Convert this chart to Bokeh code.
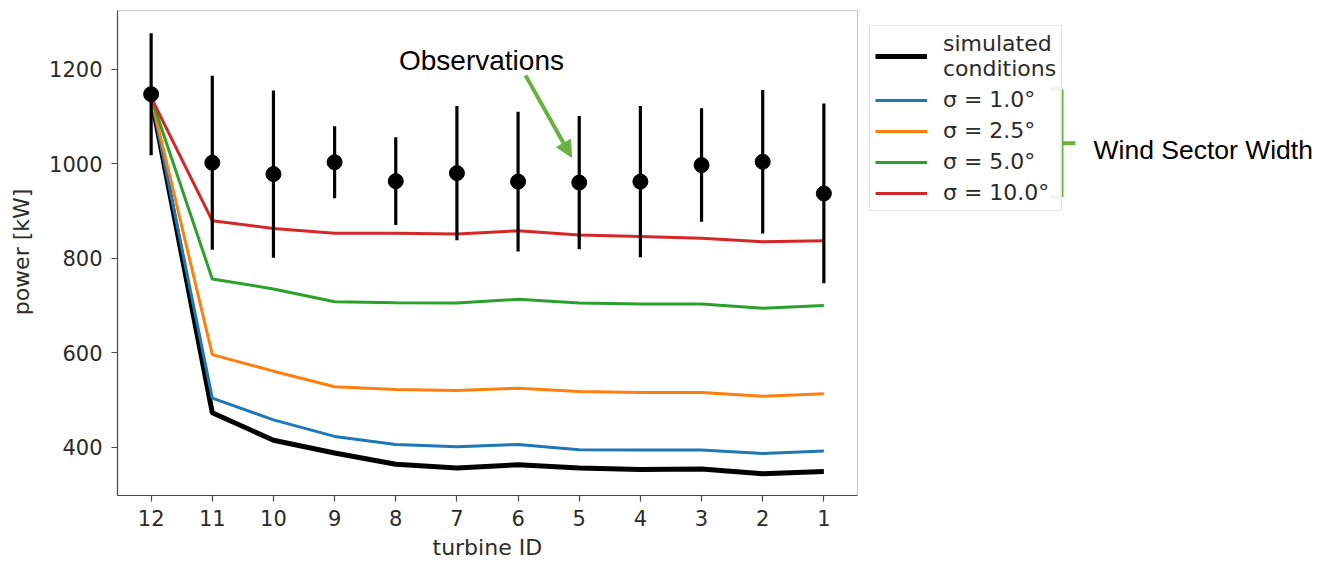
from bokeh.plotting import figure
from bokeh.models import (Range1d, FixedTicker, Legend, LegendItem, Label, Title,
                          Arrow, NormalHead, ColumnDataSource, BoxAnnotation)
from bokeh.embed import file_html
from bokeh.resources import INLINE

# ---------------- data ----------------
turbine_ids = [12, 11, 10, 9, 8, 7, 6, 5, 4, 3, 2, 1]
x_tick_labels = ["12", "11", "10", "9", "8", "7", "6", "5", "4", "3", "2", "1"]
y_ticks = [400, 600, 800, 1000, 1200]

simulated = [1140, 473, 415, 388, 364, 356, 363, 356, 353, 354, 344, 349]
sigma_1_0 = [1140, 504, 458, 423, 406, 401, 406, 395, 394, 394, 387, 392]
sigma_2_5 = [1140, 596, 561, 528, 522, 520, 525, 518, 516, 516, 508, 513]
sigma_5_0 = [1140, 756, 735, 708, 706, 705, 713, 705, 703, 703, 694, 700]
sigma_10_0 = [1140, 879, 863, 853, 853, 851, 858, 849, 846, 842, 835, 837]

obs_mean = [1147, 1002, 978, 1003, 963, 980, 962, 960, 962, 997, 1004, 937]
obs_std = [129, 184, 177, 76, 93, 142, 148, 141, 160, 120, 152, 190]

series_labels = ["σ = 1.0°", "σ = 2.5°", "σ = 5.0°", "σ = 10.0°"]
series_colors = ["#1f77b4", "#ff7f0e", "#2ca02c", "#d62728"]
series_values = [sigma_1_0, sigma_2_5, sigma_5_0, sigma_10_0]

# ---------------- geometry (page pixels) ----------------
W, H = 1331, 564
FL, FR, FT, FB = 117, 857, 10, 496          # axes box
X0, XA = 12.55, 0.45                         # x limits of the axes box
Y0, YA = 298, 1324                           # y limits of the axes box
PX = (X0 - XA) / (FR - FL)                   # x units per pixel
PY = (YA - Y0) / (FB - FT)                   # y units per pixel
TOP_PAD = 2
X1 = X0 - (W - FL) * PX                      # frame runs to the right edge
Y1 = YA + TOP_PAD * PY


def dx(px):
    return X0 - (px - FL) * PX


def dy(py):
    return YA - (py - FT) * PY


p = figure(width=W, height=H, output_backend="svg", toolbar_location=None,
           x_range=Range1d(X0, X1), y_range=Range1d(Y0, Y1),
           min_border_left=FL, min_border_right=0,
           min_border_top=FT - TOP_PAD, min_border_bottom=H - FB)
p.grid.visible = False
p.outline_line_color = None
p.background_fill_color = "white"
p.border_fill_color = "white"

AX = "#484848"
TXT = "#2b2b2b"
FONT = "DejaVu Sans"
for ax in (p.xaxis[0], p.yaxis[0]):
    ax.axis_line_color = AX
    ax.axis_line_width = 1.2
    ax.major_tick_line_color = AX
    ax.major_tick_line_width = 1.2
    ax.major_tick_out = 6
    ax.major_tick_in = 0
    ax.minor_tick_line_color = None
    ax.major_label_text_font = FONT
    ax.major_label_text_font_size = "21px"
    ax.major_label_text_color = TXT
    ax.axis_label_text_font = FONT
    ax.axis_label_text_font_size = "22px"
    ax.axis_label_text_font_style = "normal"
    ax.axis_label_text_color = TXT

p.xaxis.ticker = FixedTicker(ticks=turbine_ids)
p.xaxis.bounds = (X0, XA)
p.xaxis.major_label_overrides = {t: l for t, l in zip(turbine_ids, x_tick_labels)}
p.xaxis.major_label_standoff = 8

p.yaxis.ticker = FixedTicker(ticks=y_ticks)
p.yaxis.bounds = (Y0, YA)
p.yaxis.axis_label = "power [kW]"
p.yaxis.major_label_standoff = 9
p.yaxis.axis_label_standoff = 12

# x axis title, centred under the axes box (the frame runs wider)
p.add_layout(Title(text="turbine ID", align="left",
                   offset=432 - FL, standoff=9,
                   text_font=FONT, text_font_size="22px",
                   text_font_style="normal", text_color=TXT), "below")

# axes box (top and right sides)
p.add_layout(BoxAnnotation(left=X0, right=XA, bottom=Y0, top=YA,
                           fill_alpha=0, line_color=AX, line_width=1.2))

# ---------------- glyphs ----------------
r_sim = p.line(turbine_ids, simulated, line_color="black", line_width=5)
renderers = []
for vals, col in zip(series_values, series_colors):
    renderers.append(p.line(turbine_ids, vals, line_color=col, line_width=3))

lo = [m - s for m, s in zip(obs_mean, obs_std)]
hi = [m + s for m, s in zip(obs_mean, obs_std)]
src = ColumnDataSource(dict(x=turbine_ids, m=obs_mean, lo=lo, hi=hi))
p.segment(x0="x", y0="lo", x1="x", y1="hi", source=src,
          line_color="black", line_width=3.2)
p.scatter(x="x", y="m", source=src, size=15, marker="circle",
          fill_color="black", line_color="black")

# ---------------- legend ----------------
items = [LegendItem(label="simulated\nconditions", renderers=[r_sim])]
for lab, r in zip(series_labels, renderers):
    items.append(LegendItem(label=lab, renderers=[r]))
legend = Legend(items=items, location=(869 - FL, FB - 212),
                label_text_font=FONT, label_text_font_size="22px",
                label_text_color=TXT, glyph_width=52, glyph_height=20,
                label_standoff=16, spacing=6, padding=5, margin=0,
                border_line_color="#cccccc", border_line_width=1,
                background_fill_alpha=0.9)
p.add_layout(legend, "center")

# ---------------- annotations ----------------
GREEN = "#6ab23f"
ANN_FONT = "Liberation Sans"

p.add_layout(Label(x=dx(481), y=dy(60), text="Observations",
                   text_align="center", text_baseline="alphabetic",
                   text_font=ANN_FONT, text_font_size="28px",
                   text_color="black"))
p.add_layout(Arrow(x_start=dx(525), y_start=dy(75), x_end=dx(571), y_end=dy(157),
                   line_color=GREEN, line_width=4,
                   end=NormalHead(size=16, fill_color=GREEN, line_color=GREEN)))

# bracket
for (xa, ya, xb, yb) in [(1050, 89, 1061, 89), (1061, 89, 1061, 197),
                         (1050, 197, 1061, 197), (1061, 143, 1075, 143)]:
    p.add_layout(Arrow(x_start=dx(xa), y_start=dy(ya), x_end=dx(xb), y_end=dy(yb),
                       line_color=GREEN, line_width=4, end=None))

p.add_layout(Label(x=dx(1093), y=dy(150), text="Wind Sector Width",
                   text_align="left", text_baseline="alphabetic",
                   text_font=ANN_FONT, text_font_size="26.5px",
                   text_color="black"))

open("out.html", "w").write(file_html(p, INLINE))
